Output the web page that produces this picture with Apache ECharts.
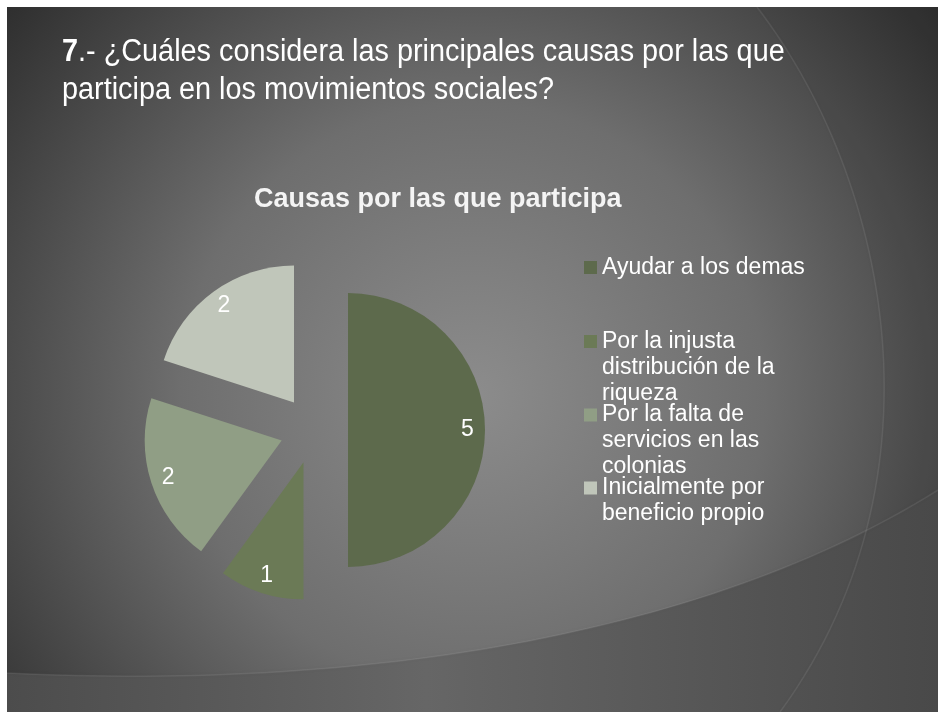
<!DOCTYPE html>
<html>
<head>
<meta charset="utf-8">
<script src="https://cdn.jsdelivr.net/npm/echarts@6/dist/echarts.min.js"></script>
<style>
  html, body { margin: 0; padding: 0; background: #ffffff; }
  #chart { width: 938px; height: 712px; }
</style>
</head>
<body>
<div id="chart"></div>
<script>
// datos de la gráfica
const categorias = [
  'Ayudar a los demas',
  'Por la injusta distribución de la riqueza',
  'Por la falta de servicios en las colonias',
  'Inicialmente por beneficio propio'
]
const valores = [5, 1, 2, 2]
const colores = ['#5d6a4c', '#6b7a56', '#909e85', '#c0c6ba']

const pregunta = '{b|7}.- ¿Cuáles considera las principales causas por las que\nparticipa en los movimientos sociales?'
const tituloGrafica = 'Causas por las que participa'

const font = 'Liberation Sans, Arial, sans-serif'
const centro = [314, 430]
const radio = 137
const desplazamiento = 34

// puntos de una curva bezier para las formas del fondo
function bezier(p0, p1, p2, p3, n) {
  const pts = []
  for (let i = 0; i <= n; i++) {
    const t = i / n, u = 1 - t
    pts.push([
      u * u * u * p0[0] + 3 * u * u * t * p1[0] + 3 * u * t * t * p2[0] + t * t * t * p3[0],
      u * u * u * p0[1] + 3 * u * u * t * p1[1] + 3 * u * t * t * p2[1] + t * t * t * p3[1]
    ])
  }
  return pts
}
const arcoDerecho = bezier([757, 7], [890, 180], [950, 480], [780, 712], 60)
const curvaInferior = bezier([7, 673], [350, 690], [700, 640], [938, 490], 60)

const chart = echarts.init(document.getElementById('chart'))

const datos = categorias.map((name, i) => ({
  name,
  value: valores[i],
  selected: true,
  itemStyle: { color: colores[i] }
}))

// una leyenda por elemento, como en la diapositiva
// el icono ocupa el alto de todo el texto, con el cuadro junto a la primera línea
const alturaLinea = 26
const leyendaTop = [254.5, 328.5, 402, 475]
const lineasLeyenda = [1, 3, 3, 2]
const leyendas = categorias.map((name, i) => {
  const h = lineasLeyenda[i] * alturaLinea
  return {
    data: [name],
    orient: 'vertical',
    left: 584,
    top: leyendaTop[i],
    padding: 0,
    icon: 'path://M0,0 M0,6.5 L13,6.5 L13,19.5 L0,19.5 Z M13,' + h,
    itemWidth: 13,
    itemHeight: h,
    selectedMode: false,
    textStyle: {
      color: '#ffffff',
      fontFamily: font,
      fontSize: 23,
      lineHeight: alturaLinea,
      width: 222,
      overflow: 'break'
    }
  }
})

const option = {
  backgroundColor: '#ffffff',
  animation: false,
  title: {
    text: tituloGrafica,
    left: 254,
    top: 186,
    padding: 0,
    textStyle: {
      color: '#f4f4f4',
      fontFamily: font,
      fontSize: 27,
      fontWeight: 'bold'
    }
  },
  legend: leyendas,
  graphic: [
    // fondo de la diapositiva
    {
      type: 'rect',
      z: -20,
      silent: true,
      shape: { x: 7, y: 7, width: 931, height: 705 },
      style: {
        fill: {
          type: 'radial', x: 0.5, y: 0.55, r: 0.92,
          colorStops: [
            { offset: 0, color: '#8c8c8c' },
            { offset: 0.45, color: '#6e6e6e' },
            { offset: 1, color: '#262626' }
          ]
        }
      }
    },
    // arco derecho
    {
      type: 'polygon',
      z: -19,
      silent: true,
      shape: { points: arcoDerecho.concat([[938, 712], [938, 7]]) },
      style: { fill: 'rgba(0,0,0,0.04)' }
    },
    // banda inferior
    {
      type: 'polygon',
      z: -18,
      silent: true,
      shape: { points: curvaInferior.concat([[938, 712], [7, 712]]) },
      style: {
        fill: {
          type: 'linear', x: 0, y: 0, x2: 1, y2: 0,
          colorStops: [
            { offset: 0, color: '#4c4c4c' },
            { offset: 0.45, color: '#666666' },
            { offset: 1, color: '#494949' }
          ]
        }
      }
    },
    {
      type: 'polyline',
      z: -17,
      silent: true,
      shape: { points: curvaInferior },
      style: {
        stroke: 'rgba(255,255,255,0.08)',
        lineWidth: 1.5,
        shadowColor: 'rgba(0,0,0,0.45)',
        shadowBlur: 5
      }
    },
    {
      type: 'polyline',
      z: -16,
      silent: true,
      shape: { points: arcoDerecho },
      style: {
        stroke: 'rgba(255,255,255,0.08)',
        lineWidth: 1.5,
        shadowColor: 'rgba(0,0,0,0.4)',
        shadowBlur: 4
      }
    },
    // pregunta
    {
      type: 'text',
      z: 10,
      x: 62,
      y: 33,
      scaleX: 0.93,
      style: {
        text: pregunta,
        fill: '#ffffff',
        fontFamily: font,
        fontSize: 31,
        lineHeight: 38,
        verticalAlign: 'top',
        rich: {
          b: { fontWeight: 'bold', fontSize: 31, lineHeight: 38, fontFamily: font, fill: '#ffffff' }
        }
      }
    }
  ],
  series: [
    {
      name: 'Causas',
      type: 'pie',
      center: centro,
      radius: radio,
      startAngle: 90,
      clockwise: true,
      selectedMode: 'multiple',
      selectedOffset: desplazamiento,
      label: { show: false },
      labelLine: { show: false },
      emphasis: { disabled: true },
      data: datos
    },
    {
      // etiquetas de valor, cerca del borde de cada porción
      name: 'Etiquetas',
      type: 'pie',
      silent: true,
      center: centro,
      radius: radio * 1.7,
      startAngle: 90,
      clockwise: true,
      selectedMode: 'multiple',
      selectedOffset: desplazamiento,
      itemStyle: { color: 'rgba(0,0,0,0)' },
      label: {
        show: true,
        position: 'inside',
        formatter: '{c}',
        color: '#ffffff',
        fontFamily: font,
        fontSize: 23,
        padding: [6, 0, 0, 0],
        textBorderWidth: 0
      },
      labelLine: { show: false },
      emphasis: { disabled: true },
      data: categorias.map((name, i) => ({ name, value: valores[i], selected: true }))
    }
  ]
}

chart.setOption(option)
</script>
</body>
</html>
